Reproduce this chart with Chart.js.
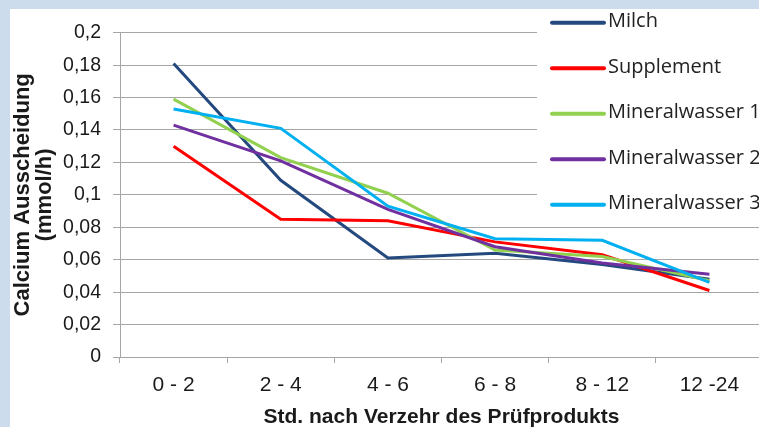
<!DOCTYPE html>
<html>
<head>
<meta charset="utf-8">
<script src="https://cdn.jsdelivr.net/npm/chart.js@4/dist/chart.umd.min.js"></script>
<style>
html,body{margin:0;padding:0;overflow:hidden;background:#cddcec;width:759px;height:427px;}
#wrap{position:absolute;left:10px;top:9px;width:760px;height:418px;background:#fff;}
</style>
</head>
<body>
<div id="wrap"><canvas id="c" width="760" height="418"></canvas></div>
<script>
const categories = ['0 - 2', '2 - 4', '4 - 6', '6 - 8', '8 - 12', '12 -24'];
const seriesNames = ['Milch', 'Supplement', 'Mineralwasser 1', 'Mineralwasser 2', 'Mineralwasser 3'];
const milch = [0.181, 0.109, 0.061, 0.064, 0.057, 0.048];
const supplement = [0.130, 0.085, 0.084, 0.071, 0.063, 0.041];
const mineralwasser1 = [0.159, 0.123, 0.101, 0.066, 0.062, 0.047];
const mineralwasser2 = [0.143, 0.121, 0.091, 0.068, 0.058, 0.051];
const mineralwasser3 = [0.153, 0.141, 0.093, 0.073, 0.072, 0.046];
const yTickValues = [0, 0.02, 0.04, 0.06, 0.08, 0.1, 0.12, 0.14, 0.16, 0.18, 0.2];
const yTitle = ['Calcium Ausscheidung', '(mmol/h)'];
const xTitle = 'Std. nach Verzehr des Prüfprodukts';

const colors = ['#23497f', '#ff0000', '#92d050', '#7030a0', '#00b0f0'];
const values = [milch, supplement, mineralwasser1, mineralwasser2, mineralwasser3];

const gridColor = '#a6a6a6';

const legendPlugin = {
  id: 'excelLegend',
  afterDraw(chart) {
    const ctx = chart.ctx;
    ctx.save();
    ctx.fillStyle = '#ffffff';
    ctx.fillRect(527, 0, 240, 203);
    chart.data.datasets.forEach((ds, i) => {
      const y = 13.7 + 45.5 * i;
      ctx.strokeStyle = ds.borderColor;
      ctx.lineWidth = 4;
      ctx.lineCap = 'round';
      ctx.beginPath();
      ctx.moveTo(542, y);
      ctx.lineTo(594, y);
      ctx.stroke();
      ctx.fillStyle = '#222222';
      ctx.font = '20px "Open Sans"';
      ctx.textAlign = 'left';
      ctx.textBaseline = 'middle';
      ctx.fillText(ds.label, 598, y - 1);
    });
    ctx.restore();
  }
};

new Chart(document.getElementById('c'), {
  type: 'line',
  data: {
    labels: categories,
    datasets: seriesNames.map((name, i) => ({
      label: name,
      data: values[i],
      borderColor: colors[i],
      backgroundColor: colors[i],
      borderWidth: 3,
      pointRadius: 0,
      tension: 0,
      order: seriesNames.length - i
    }))
  },
  options: {
    responsive: false,
    animation: false,
    layout: { padding: { top: 22, right: 7, left: 0, bottom: 0 } },
    plugins: { legend: { display: false }, tooltip: { enabled: false } },
    scales: {
      x: {
        offset: true,
        grid: { offset: true, drawOnChartArea: false, drawTicks: true, tickLength: 6, color: gridColor },
        border: { color: gridColor, width: 1 },
        ticks: { color: '#1a1a1a', font: { family: 'Arial, "Liberation Sans"', size: 21 }, padding: 10, maxRotation: 0 },
        title: { display: true, text: xTitle, color: '#1a1a1a', font: { family: 'Arial, "Liberation Sans"', size: 21, weight: 'bold' }, padding: { top: 0, bottom: -3 } },
        afterFit(scale) { scale.height = 70; }
      },
      y: {
        min: 0, max: 0.2,
        afterBuildTicks(scale) { scale.ticks = yTickValues.map(v => ({ value: v })); },
        grid: { color: gridColor, tickLength: 7, drawTicks: true },
        border: { color: gridColor, width: 1 },
        ticks: {
          color: '#1a1a1a',
          font: { family: 'Arial, "Liberation Sans"', size: 19.5 },
          padding: 12,
          callback: (v) => String(Math.round(v * 100) / 100).replace('.', ',')
        },
        title: { display: true, text: yTitle, color: '#1a1a1a', font: { family: 'Arial, "Liberation Sans"', size: 22, weight: 'bold', lineHeight: 1.0 }, padding: { top: 2, bottom: 0 } },
        afterFit(scale) { scale.width = 110; }
      }
    }
  },
  plugins: [legendPlugin]
});
</script>
</body>
</html>
